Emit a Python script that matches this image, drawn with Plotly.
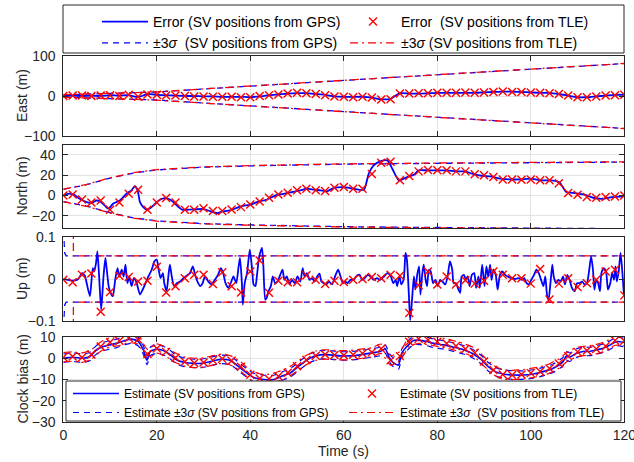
import plotly.graph_objects as go

FONT = "Liberation Sans, Arial, Helvetica, sans-serif"
BLUE = "#0000ff"
RED = "#ff0000"
AX = "#262626"
GRID = "#e3e3e3"

# ---------------- data ----------------
t2 = list(range(0, 121, 2))  # 2 s sample times for TLE error markers

# East (m)
east_gps = [0, 1, 0, 1, 0, 2, 1, 2, -3, 5, 3, 2, 1, 0, 0, -1, -1, -2, -2, -2, -3,
            -1, 2, 4, 6, 7, 7, 5, 3, -1, -2, -2, -2, -4, -8, -7, 7, 6, 6, 7, 8,
            8, 8, 8, 8, 9, 10, 11, 11, 10, 9, 8, 8, 5, 1, -3, -3, -1, 1, 3, 3]
east_tle = [0, 1, 1, 0, 1, 2, 0, 3, -2, 4, 3, 1, 1, 0, -1, -1, -2, -2, -2, -3, -3,
            0, 2, 4, 6, 8, 7, 5, 2, -1, -2, -3, -2, -4, -9, -8, 6, 6, 7, 7, 8,
            8, 8, 9, 8, 9, 10, 11, 10, 10, 9, 8, 7, 5, 1, -3, -3, -1, 1, 2, 3]
east_sig_t = [0, 10, 20, 30, 40, 50, 60, 70, 80, 90, 100, 110, 120]
east_sig_gps = [3, 6, 10, 17.5, 25, 32, 39, 46, 53, 60, 67, 74, 81]
east_sig_tle = [3.2, 6.2, 10.3, 17.8, 25.3, 32.3, 39.3, 46.3, 53.3, 60.3, 67.3, 74.3, 81.3]

# North (m)
north_t = [0, 1, 2.1, 3.5, 5, 6, 7.1, 7.9, 8.9, 9.6, 10.7, 12.1, 13.5, 14.6, 15.3,
           15.9, 16.4, 17.1, 17.9, 18.9, 20, 21.1, 21.8, 22.9, 23.9, 25.4, 26.8,
           28.2, 30, 31.4, 32.9, 33.9, 35.7, 37.5, 38.9, 40, 41.4, 43.6, 45.4,
           47.1, 48.9, 50.7, 52.1, 53.6, 55, 56.4, 57.8, 60, 62.1, 64.3, 65.3,
           66.4, 67.8, 69.3, 70.4, 71.8, 73.5, 75, 76, 77.8, 79.9, 82, 84.2, 85.9,
           87.7, 89.5, 91.4, 93.5, 95.6, 97.8, 100, 102.2, 104.3, 106.1, 107.6,
           109.4, 111.5, 113.3, 115.4, 117.3, 119.5, 120]
north_gps = [0, 1.6, 1, -3.3, -6.6, -7.5, -5, -6, -10, -13, -8, -5, 1.6, 5, 9, 5,
             -6.6, -11.5, -14, -11.5, -6.6, -3.3, -2.6, -4.3, -8.2, -14, -14, -13.7,
             -13.4, -15.4, -17.4, -16, -14.8, -11.5, -9.8, -9.2, -6.6, -4, 0, 1.6,
             3.3, 5, 6.6, 5.6, 5, 4, 7.2, 8.2, 6.6, 5.6, 21, 29.5, 33.4, 34.4, 26,
             14.8, 18, 20.3, 24.6, 24.6, 24.6, 24.6, 23.6, 23.6, 21, 19.3, 18.7,
             16.4, 15.7, 15.7, 16.4, 14.8, 14.8, 13, 3.3, 2.3, 0.7, -2.3, -3.3,
             -1.6, -1, 0]
north_tle = [0, 1, -4, -7, -5, -14, -7, 1.6, 5.6, -14, -7, -2.6, -7, -14, -14,
             -12.5, -15.4, -15.4, -13.8, -11.5, -8.9, -6, -2.3, 1, 2.6, 5, 6.6, 5,
             4.3, 7.5, 8.2, 6.6, 6.6, 21, 32, 33, 14.8, 19, 23.6, 25, 24.6, 24.6,
             23.6, 23.6, 20.7, 19.7, 18, 15.7, 15.7, 15.4, 15.7, 14.8, 14.8, 12,
             2.3, 0.7, -1.6, -2.3, -1.6, -1, 0]
north_sig_t = [0, 2, 5, 10, 15, 20, 30, 40, 50, 60, 80, 100, 120]
north_sig_gps = [6, 7.5, 10.5, 17, 22, 25, 27.7, 29, 30, 30.7, 31.5, 32.2, 32.7]
north_sig_tle = [6.2, 7.8, 10.8, 17.3, 22.3, 25.3, 28, 29.3, 30.3, 31, 31.8, 32.5, 33]

# Up (m)
up_t = [0, 1, 2, 3, 3.5, 4, 4.6, 5, 5.7, 6.3, 6.6, 7, 7.3, 7.7, 8.1, 8.6, 9, 9.3,
        9.7, 10.1, 10.6, 11.1, 11.6, 12, 12.5, 12.9, 13.3, 13.7, 14.1, 14.6, 15.1,
        15.7, 16.4, 17, 17.6, 18.2, 18.9, 19.5, 20, 20.4, 20.8, 21.3, 21.6, 22.1,
        22.5, 22.8, 23.2, 23.7, 24.3, 25, 25.7, 26.4, 27.1, 27.7, 28.2, 28.7, 29.3,
        29.8, 30.3, 31, 31.7, 32.4, 33.1, 33.7, 34.2, 34.7, 35.3, 35.8, 36.4, 37,
        37.5, 37.8, 38.2, 38.4, 38.8, 39.3, 39.9, 40.4, 40.7, 41.1, 41.4, 41.8,
        42.1, 42.5, 42.8, 43.2, 43.5, 43.9, 44.4, 44.8, 45.3, 45.8, 46.4, 46.9,
        47.3, 47.8, 48.4, 48.9, 49.5, 50.1, 50.7, 51.2, 51.6, 52.1, 52.7, 53.2,
        53.8, 54.3, 54.8, 55.2, 55.7, 56.3, 56.8, 57.5, 58, 58.4, 58.8, 59.3, 59.8,
        60.3, 60.8, 61.4, 62.1, 62.8, 63.4, 63.9, 64.5, 65.1, 65.7, 66.4, 67.1,
        67.8, 68.6, 69.3, 70, 70.6, 71.1, 71.4, 71.9, 72.3, 72.8, 73.2, 73.5, 73.9,
        74.2, 74.6, 75, 75.3, 75.7, 76.1, 76.4, 76.8, 77.1, 77.5, 77.8, 78.2, 78.6,
        79.1, 79.6, 80.1, 80.6, 81.1, 81.7, 82.2, 82.7, 83.2, 83.5, 84, 84.5, 84.9,
        85.2, 85.7, 86.1, 86.5, 86.9, 87.4, 87.9, 88.3, 88.8, 89.1, 89.6, 90.1,
        90.5, 90.9, 91.3, 91.6, 92, 92.5, 92.9, 93.4, 93.9, 94.5, 95.2, 95.9, 96.6,
        97.4, 98.1, 98.6, 99.1, 99.6, 100.1, 100.7, 101.2, 101.7, 102.2, 102.7,
        103.1, 103.5, 103.8, 104.2, 104.6, 104.9, 105.4, 105.9, 106.4, 106.9,
        107.3, 107.8, 108.3, 108.8, 109.4, 109.9, 110.4, 111, 111.5, 112, 112.5,
        112.9, 113.3, 113.6, 114, 114.4, 114.8, 115.1, 115.6, 116.1, 116.5, 117,
        117.4, 117.8, 118.1, 118.4, 118.8, 119.2, 119.6, 119.9, 120]
up_gps = [0.0, -0.002, -0.004, -0.002, 0.005, 0.014, 0.008, -0.01, -0.041, 0.026,
          0.018, 0.038, 0.066, -0.002, -0.073, 0.006, 0.05, 0.022, -0.017, -0.033,
          -0.041, -0.002, 0.026, 0.006, 0.022, 0.006, 0.034, -0.01, 0.006, -0.017,
          0.002, -0.01, -0.037, -0.025, -0.01, 0.006, 0.022, 0.042, 0.046, 0.022,
          0.002, 0.014, -0.01, -0.029, 0.01, 0.034, 0.006, -0.017, -0.01, -0.006,
          0.002, 0.008, 0.014, 0.03, 0.01, -0.006, -0.017, -0.01, 0.006, -0.006,
          -0.013, -0.002, 0.01, 0.026, 0.014, -0.01, -0.021, -0.01, 0.006, -0.01,
          0.03, 0.05, -0.01, -0.061, -0.01, 0.014, 0.07, 0.022, -0.013, -0.017,
          0.006, 0.046, 0.062, 0.074, 0.03, -0.049, -0.045, -0.029, -0.017, 0.006,
          -0.01, -0.006, 0.01, 0.022, -0.002, 0.006, -0.013, -0.002, -0.01, 0.006,
          -0.006, 0.026, 0.006, 0.014, -0.002, 0.002, -0.006, 0.006, 0.013, -0.006,
          -0.01, -0.013, -0.006, -0.013, 0.002, 0.014, 0.022, 0.006, -0.01, -0.006,
          -0.01, -0.002, -0.002, 0.008, 0.01, -0.002, 0.002, 0.01, 0.006, -0.002,
          0.002, -0.002, 0.006, 0.014, 0.008, -0.01, -0.002, -0.017, 0.006, -0.013,
          -0.002, 0.062, 0.046, -0.033, -0.098, -0.049, 0.006, -0.025, 0.01, 0.03,
          -0.037, 0.014, 0.034, -0.002, -0.017, 0.022, 0.018, -0.01, -0.002, -0.017,
          -0.002, -0.006, -0.013, 0.006, 0.042, 0.022, -0.01, -0.01, -0.025, -0.033,
          0.006, 0.01, -0.002, 0.006, -0.017, 0.01, 0.014, -0.021, 0.006, -0.021,
          0.034, -0.017, 0.03, 0.006, 0.034, -0.002, 0.022, 0.01, -0.025, 0.01,
          0.018, 0.01, 0.005, 0.002, 0.0, 0.002, -0.002, 0.002, -0.01, -0.013,
          -0.002, 0.01, 0.022, 0.014, -0.002, -0.017, 0.006, -0.041, -0.049, -0.01,
          0.034, 0.006, -0.01, -0.002, -0.006, 0.006, -0.013, 0.01, -0.002, -0.021,
          -0.029, -0.01, -0.01, -0.006, -0.013, -0.01, 0.022, 0.054, 0.022, -0.025,
          -0.002, -0.01, -0.029, 0.014, 0.026, 0.018, -0.025, -0.01, 0.014, -0.002,
          0.03, -0.006, 0.018, 0.062, 0.014, -0.033, -0.04]
up_tle = [-0.002, -0.008, 0.010, 0.013, -0.078, -0.031, 0.008, 0.005, -0.006, -0.004,
          0.029, -0.032, -0.017, 0.002, 0.010, 0.010, -0.012, 0.016, -0.017, -0.032,
          0.018, 0.044, -0.033, -0.004, -0.008, -0.008, 0.009, -0.002, -0.012, -0.004,
          -0.007, -0.002, 0.0, 0.005, 0.002, 0.010, 0.008, -0.081, -0.015, 0.018,
          -0.013, 0.006, -0.013, -0.003, -0.011, -0.004, 0.018, 0.010, 0.002, 0.002,
          -0.011, 0.024, -0.049, -0.011, 0.002, -0.019, -0.010, -0.002, 0.018, 0.022,
          -0.039]
up_sig_gps_t = [0, 0.1, 0.3, 0.6, 120]
up_sig_gps = [0.3, 0.1, 0.062, 0.055, 0.055]
up_sig_tle_t = [2.14, 2.16, 120]
up_sig_tle = [0.3, 0.055, 0.055]

# Clock bias (m)
clk_t = [0, 2.1, 4.3, 5.7, 7.1, 8.6, 10, 11.4, 13.2, 14.6, 16, 17.1, 17.9, 18.6, 20,
         21.4, 22.9, 24.3, 26.1, 27.9, 29.6, 31.4, 33.6, 35.4, 36.4, 37.9, 39.3,
         40.7, 42.9, 45, 46.8, 48.6, 50.5, 52.7, 55, 57.1, 59.2, 61.4, 63.5, 65.6,
         67.8, 68.9, 69.6, 70.6, 71.7, 72.4, 73.5, 74.9, 76.4, 77.8, 79.2, 81.3,
         83.5, 85.6, 87.7, 89.5, 90.9, 92.4, 94.1, 96.3, 98.4, 100.5, 102.6, 104.8,
         106.9, 107.6, 108.3, 109.8, 111.2, 112.6, 114.1, 115.5, 117, 118.4, 120]
clk_gps = [0, 0.5, 0, 0.8, 4, 5.5, 6.3, 7, 8.4, 9, 7.9, 4, -1, 3.2, 4.3, 3.6, 1.6,
           -0.8, -2, -2.4, -2.4, -1.6, -0.5, -0.8, -2, -4.7, -7, -9, -10, -10, -8.4,
           -6.8, -3.5, 0, 1.6, 1.6, 1.1, 1.1, 1.6, 2.4, 3.2, 4.3, 0.8, -2, -3.2, 2.4,
           5.5, 8.4, 8.4, 7.9, 7, 6.3, 5.2, 4, 2, -0.8, -4, -6.3, -7.4, -7.9, -7.9,
           -7.4, -6.3, -4.7, -1.6, 1.1, 0.5, 2.4, 3.2, 3.2, 4, 4.7, 6.3, 7.9, 7.4]
clk_tle = [0.5, 0.8, 0.3, 1.8, 5.5, 7.5, 8.2, 9.5, 8.8, 2.0, 4.6, 3.0, 0.2, -1.6,
           -2.2, -2.0, -1.0, -0.2, -1.2, -4.0, -7.8, -9.5, -9.8, -8.5, -6.8, -3.8,
           -0.8, 1.2, 1.8, 1.5, 1.4, 1.6, 2.2, 2.8, 4.5, -1.0, 1.0, 7.8, 9.2, 8.6,
           7.8, 6.9, 5.8, 4.4, 2.6, -1.5, -5.5, -7.6, -7.9, -7.6, -7.0, -6.2, -4.8,
           -2.5, 1.0, 3.0, 3.6, 4.3, 5.6, 8.3, 8.2]
clk_3sig_gps = 2.0
clk_3sig_tle = 2.2

# ---------------- figure ----------------
W, H = 634, 462
XD = [63.3 / W, 624.3 / W]


def ydom(top_px, bot_px):
    return [1 - bot_px / H, 1 - top_px / H]


doms = [ydom(56, 136), ydom(145, 228), ydom(237, 321), ydom(337, 422)]

fig = go.Figure()


def band(t, sig):
    return (list(t) + [None] + list(t),
            list(sig) + [None] + [-s for s in sig])


def add_panel(i, gps_t, gps, tle_t, tle, bg_t, bg, bt_t, bt, show):
    xa, ya = ("x", "y") if i == 1 else (f"x{i}", f"y{i}")
    bx, by = band(bg_t, bg)
    fig.add_trace(go.Scatter(x=bx, y=by, xaxis=xa, yaxis=ya, mode="lines",
                             line=dict(color=BLUE, width=1.3, dash="6px,5px"),
                             name="±3<i>σ</i>  (SV positions from GPS)",
                             showlegend=show, legendrank=3, legend="legend"))
    bx, by = band(bt_t, bt)
    fig.add_trace(go.Scatter(x=bx, y=by, xaxis=xa, yaxis=ya, mode="lines",
                             line=dict(color=RED, width=1.3, dash="8px,4px,2px,4px"),
                             name="±3<i>σ</i> (SV positions from TLE)",
                             showlegend=show, legendrank=4, legend="legend"))
    fig.add_trace(go.Scatter(x=gps_t, y=gps, xaxis=xa, yaxis=ya, mode="lines",
                             line=dict(color=BLUE, width=1.8, shape="spline",
                                       smoothing=0.6),
                             name="Error (SV positions from GPS)",
                             showlegend=show, legendrank=1, legend="legend"))
    fig.add_trace(go.Scatter(x=tle_t, y=tle, xaxis=xa, yaxis=ya, mode="markers",
                             marker=dict(symbol="x-thin", size=8, color=RED,
                                         line=dict(color=RED, width=1.4)),
                             name="Error  (SV positions from TLE)",
                             showlegend=show, legendrank=2, legend="legend"))


add_panel(1, t2, east_gps, t2, east_tle, east_sig_t, east_sig_gps,
          east_sig_t, east_sig_tle, True)
add_panel(2, north_t, north_gps, t2, north_tle, north_sig_t, north_sig_gps,
          north_sig_t, north_sig_tle, False)
add_panel(3, up_t, up_gps, t2, up_tle, up_sig_gps_t, up_sig_gps,
          up_sig_tle_t, up_sig_tle, False)

# clock panel
cg_b = [v + clk_3sig_gps for v in clk_gps] + [None] + [v - clk_3sig_gps for v in clk_gps]
ct_b = [v + clk_3sig_tle for v in clk_tle] + [None] + [v - clk_3sig_tle for v in clk_tle]
fig.add_trace(go.Scatter(x=clk_t + [None] + clk_t, y=cg_b, xaxis="x4", yaxis="y4",
                         mode="lines", line=dict(color=BLUE, width=1.2, dash="6px,5px",
                                                 shape="spline", smoothing=0.6),
                         name="Estimate ±3<i>σ</i> (SV positions from GPS)",
                         legend="legend2", legendrank=3))
fig.add_trace(go.Scatter(x=t2 + [None] + t2, y=ct_b, xaxis="x4", yaxis="y4",
                         mode="lines", line=dict(color=RED, width=1.2, dash="8px,4px,2px,4px",
                                                 shape="spline", smoothing=0.6),
                         name="Estimate ±3<i>σ</i>  (SV positions from TLE)",
                         legend="legend2", legendrank=4))
fig.add_trace(go.Scatter(x=clk_t, y=clk_gps, xaxis="x4", yaxis="y4", mode="lines",
                         line=dict(color=BLUE, width=1.6, shape="spline", smoothing=0.6),
                         name="Estimate (SV positions from GPS)",
                         legend="legend2", legendrank=1))
fig.add_trace(go.Scatter(x=t2, y=clk_tle, xaxis="x4", yaxis="y4", mode="markers",
                         marker=dict(symbol="x-thin", size=8, color=RED,
                                     line=dict(color=RED, width=1.4)),
                         name="Estimate (SV positions from TLE)",
                         legend="legend2", legendrank=2))

tickfont = dict(family=FONT, size=14, color=AX)
xcommon = dict(range=[0, 120], tickvals=[0, 20, 40, 60, 80, 100, 120],
               showgrid=True, gridcolor=GRID, gridwidth=1, zeroline=False,
               showline=True, linecolor=AX, linewidth=1, mirror="ticks",
               ticks="inside", ticklen=5, tickcolor=AX, tickfont=tickfont,
               domain=XD, automargin=False, ticklabeloverflow="allow")
ycommon = dict(showgrid=True, gridcolor=GRID, gridwidth=1, zeroline=False,
               showline=True, linecolor=AX, linewidth=1, mirror="ticks",
               ticks="inside", ticklen=5, tickcolor=AX, tickfont=tickfont,
               ticklabelstandoff=4, automargin=False)

layout = dict(width=W, height=H, margin=dict(l=0, r=0, t=0, b=0, autoexpand=False),
              paper_bgcolor="white", plot_bgcolor="white",
              font=dict(family=FONT, size=14, color=AX))

yspecs = [
    dict(range=[-100, 100], tickvals=[-100, 0, 100]),
    dict(range=[-32, 49.5], tickvals=[-20, 0, 20, 40]),
    dict(range=[-0.1, 0.1], tickvals=[-0.1, 0, 0.1]),
    dict(range=[-30, 10], tickvals=[-30, -20, -10, 0, 10]),
]
for i in range(4):
    xk = "xaxis" if i == 0 else f"xaxis{i + 1}"
    yk = "yaxis" if i == 0 else f"yaxis{i + 1}"
    xa = dict(xcommon, anchor="y" if i == 0 else f"y{i + 1}")
    if i < 3:
        xa["showticklabels"] = False
    else:
        xa["ticklabelstandoff"] = 0
    ya = dict(ycommon, domain=doms[i], anchor="x" if i == 0 else f"x{i + 1}", **yspecs[i])
    layout[xk] = xa
    layout[yk] = ya

# legends (frames drawn as shapes so the text sits where the reference has it)
layout["legend"] = dict(orientation="h", x=97 / W, y=1 - 6 / H, xanchor="left", yanchor="top",
                        bgcolor="rgba(0,0,0,0)", borderwidth=0,
                        font=dict(family=FONT, size=14, color="#000000"),
                        entrywidth=187, itemwidth=46, traceorder="normal")
layout["legend2"] = dict(orientation="h", x=68 / W, y=1 - 379 / H, xanchor="left", yanchor="top",
                         bgcolor="rgba(0,0,0,0)", borderwidth=0,
                         font=dict(family=FONT, size=12, color="#000000"),
                         entrywidth=215, itemwidth=46, traceorder="normal")

layout["shapes"] = [
    dict(type="rect", xref="paper", yref="paper", x0=63 / W, x1=624 / W,
         y0=1 - 53 / H, y1=1 - 5 / H, line=dict(color=AX, width=1),
         fillcolor="white", layer="below"),
    dict(type="rect", xref="paper", yref="paper", x0=66 / W, x1=621 / W,
         y0=1 - 421 / H, y1=1 - 381 / H, line=dict(color=AX, width=1),
         fillcolor="white", layer="above"),
]

ann = []
for lab, d in zip(["East (m)", "North (m)", "Up (m)", "Clock bias (m)"], doms):
    ann.append(dict(text=lab, x=22 / W, y=(d[0] + d[1]) / 2, xref="paper", yref="paper",
                    textangle=-90, showarrow=False, xanchor="center", yanchor="middle",
                    font=dict(family=FONT, size=14, color=AX)))
ann.append(dict(text="Time (s)", x=(XD[0] + XD[1]) / 2, y=1 - 461 / H, xref="paper",
                yref="paper", showarrow=False, xanchor="center", yanchor="bottom",
                font=dict(family=FONT, size=14, color=AX)))
layout["annotations"] = ann

fig.update_layout(**layout)
fig.write_html("out.html")
